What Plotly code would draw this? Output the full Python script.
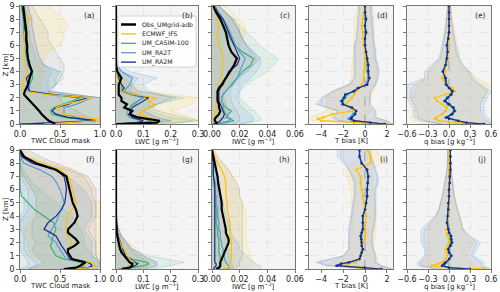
import plotly.graph_objects as go

# ---------------- data ----------------
Z = [0, 0.1, 0.25, 0.4, 0.5, 0.75, 1.0, 1.25, 1.5, 1.75, 2.0, 2.25, 2.5, 2.75, 3.0,
     3.5, 4.0, 4.5, 5.0, 5.5, 6.0, 6.5, 7.0, 7.5, 8.0, 8.5, 9.0]
ZB = [0, 0.25, 0.5, 1.0, 1.5, 2.0, 2.5, 3.0, 3.5, 4.0, 4.5, 5.0, 5.5, 6.0, 6.5, 7.0, 7.5, 8.0, 8.5, 9.0]

SERIES = ["Obs_UMgrid-adb", "ECMWF_IFS", "UM_CASIM-100", "UM_RA2T", "UM_RA2M"]

# (a) TWC cloud mask, top
A_OBS = [0.44, 0.40, 0.36, 0.33, 0.31, 0.27, 0.24, 0.2, 0.16, 0.12, 0.08, 0.05, 0.06, 0.08, 0.1, 0.12, 0.15, 0.12, 0.1, 0.09, 0.09, 0.08, 0.08, 0.07, 0.06, 0.05, 0.04]
A_IFS = [0.3, 0.6, 1.0, 0.95, 0.85, 0.55, 0.5, 0.45, 0.55, 0.75, 0.9, 0.35, 0.06, 0.03, 0.03, 0.06, 0.1, 0.06, 0.05, 0.05, 0.06, 0.05, 0.06, 0.08, 0.12, 0.06, 0.03]
A_CASIM = [0.0, 0.5, 0.95, 0.7, 0.55, 0.4, 0.38, 0.42, 0.55, 0.65, 0.75, 0.35, 0.1, 0.1, 0.12, 0.16, 0.15, 0.1, 0.08, 0.07, 0.06, 0.05, 0.05, 0.04, 0.04, 0.03, 0.02]
A_RA2T = [0.0, 0.45, 0.9, 0.8, 0.7, 0.55, 0.55, 0.55, 0.7, 0.8, 0.9, 0.45, 0.12, 0.12, 0.12, 0.12, 0.14, 0.1, 0.09, 0.08, 0.07, 0.07, 0.06, 0.05, 0.05, 0.04, 0.03]
A_RA2M = [0.0, 0.5, 0.95, 0.75, 0.6, 0.45, 0.4, 0.45, 0.6, 0.7, 0.85, 0.4, 0.12, 0.1, 0.1, 0.08, 0.15, 0.12, 0.1, 0.09, 0.08, 0.07, 0.06, 0.06, 0.05, 0.04, 0.03]
A_OBS_HI = [0.95, 0.9, 0.85, 0.7, 0.55, 0.5, 0.35, 0.45, 0.5, 0.55, 0.55, 0.5, 0.45, 0.4, 0.35, 0.35, 0.3, 0.25, 0.2, 0.15]
A_IFS_HI = [1, 1, 1, 1, 1, 1, 0.3, 0.25, 0.3, 0.3, 0.3, 0.3, 0.35, 0.5, 0.55, 0.55, 0.6, 0.55, 0.45, 0.35]
A_CASIM_HI = [1, 1, 1, 1, 1, 1, 0.35, 0.45, 0.55, 0.5, 0.3, 0.2, 0.18, 0.15, 0.12, 0.12, 0.1, 0.1, 0.08, 0.06]
A_RA2T_HI = [1, 1, 1, 1, 1, 1, 0.4, 0.45, 0.45, 0.5, 0.3, 0.25, 0.22, 0.2, 0.18, 0.17, 0.15, 0.15, 0.12, 0.1]
A_RA2M_HI = [1, 1, 1, 1, 1, 1, 0.35, 0.35, 0.35, 0.4, 0.3, 0.25, 0.22, 0.2, 0.18, 0.17, 0.15, 0.15, 0.12, 0.1]

# (b) LWC, top
B_OBS = [0.0, 0.15, 0.16, 0.12, 0.08, 0.05, 0.06, 0.03, 0.04, 0.02, 0.02, 0.01, 0.01, 0.01, 0.01, 0.02, 0.005, 0, 0, 0, 0, 0, 0, 0, 0, 0, 0]
B_IFS = [0.0, 0.12, 0.16, 0.14, 0.12, 0.08, 0.1, 0.12, 0.14, 0.12, 0.15, 0.06, 0.02, 0.015, 0.01, 0.005, 0, 0, 0, 0, 0, 0, 0, 0, 0, 0, 0]
B_CASIM = [0.0, 0.1, 0.13, 0.1, 0.07, 0.05, 0.05, 0.05, 0.06, 0.08, 0.1, 0.05, 0.02, 0.02, 0.02, 0.01, 0, 0, 0, 0, 0, 0, 0, 0, 0, 0, 0]
B_RA2T = [0.0, 0.07, 0.09, 0.07, 0.05, 0.04, 0.04, 0.05, 0.07, 0.08, 0.1, 0.06, 0.03, 0.04, 0.05, 0.06, 0.02, 0.005, 0, 0, 0, 0, 0, 0, 0, 0, 0]
B_RA2M = [0.0, 0.08, 0.1, 0.08, 0.06, 0.05, 0.05, 0.06, 0.08, 0.1, 0.12, 0.06, 0.02, 0.03, 0.02, 0.01, 0.005, 0, 0, 0, 0, 0, 0, 0, 0, 0, 0]
B_OBS_HI = [0.2, 0.3, 0.25, 0.15, 0.12, 0.12, 0.05, 0.06, 0.08, 0.02, 0, 0, 0, 0, 0, 0, 0, 0, 0, 0]
B_IFS_HI = [0.15, 0.3, 0.28, 0.2, 0.28, 0.3, 0.12, 0.05, 0.03, 0.01, 0, 0, 0, 0, 0, 0, 0, 0, 0, 0]
B_CASIM_HI = [0.15, 0.28, 0.2, 0.12, 0.15, 0.25, 0.08, 0.05, 0.04, 0.01, 0, 0, 0, 0, 0, 0, 0, 0, 0, 0]
B_RA2T_HI = [0.1, 0.2, 0.15, 0.1, 0.15, 0.2, 0.12, 0.1, 0.15, 0.05, 0.01, 0, 0, 0, 0, 0, 0, 0, 0, 0]
B_RA2M_HI = [0.1, 0.2, 0.15, 0.1, 0.15, 0.22, 0.08, 0.06, 0.05, 0.02, 0, 0, 0, 0, 0, 0, 0, 0, 0, 0]

# (c) IWC, top
C_OBS = [0.004, 0.003, 0.002, 0.002, 0.003, 0.005, 0.006, 0.005, 0.005, 0.004, 0.004, 0.004, 0.004, 0.005, 0.007, 0.01, 0.013, 0.016, 0.018, 0.014, 0.012, 0.011, 0.01, 0.008, 0.006, 0.003, 0.001]
C_IFS = [0.0, 0.001, 0.002, 0.002, 0.002, 0.002, 0.003, 0.003, 0.003, 0.003, 0.004, 0.004, 0.004, 0.005, 0.005, 0.006, 0.007, 0.008, 0.008, 0.007, 0.005, 0.004, 0.004, 0.005, 0.004, 0.003, 0.002]
C_CASIM = [0.0, 0.01, 0.016, 0.012, 0.01, 0.012, 0.014, 0.01, 0.008, 0.007, 0.007, 0.008, 0.01, 0.012, 0.014, 0.018, 0.022, 0.028, 0.03, 0.022, 0.016, 0.013, 0.011, 0.009, 0.007, 0.004, 0.002]
C_RA2T = [0.0, 0.008, 0.012, 0.014, 0.012, 0.01, 0.009, 0.008, 0.008, 0.007, 0.007, 0.008, 0.01, 0.012, 0.015, 0.018, 0.02, 0.022, 0.024, 0.02, 0.017, 0.015, 0.013, 0.011, 0.008, 0.005, 0.002]
C_RA2M = [0.0, 0.004, 0.006, 0.007, 0.008, 0.009, 0.008, 0.007, 0.006, 0.005, 0.005, 0.005, 0.005, 0.006, 0.008, 0.01, 0.012, 0.018, 0.02, 0.018, 0.016, 0.014, 0.012, 0.01, 0.008, 0.004, 0.002]
C_OBS_HI = [0.01, 0.008, 0.01, 0.012, 0.01, 0.008, 0.008, 0.012, 0.018, 0.025, 0.03, 0.035, 0.03, 0.025, 0.022, 0.02, 0.018, 0.015, 0.01, 0.005]
C_IFS_HI = [0.005, 0.008, 0.01, 0.012, 0.01, 0.01, 0.01, 0.012, 0.015, 0.018, 0.02, 0.02, 0.02, 0.02, 0.022, 0.025, 0.024, 0.02, 0.015, 0.01]
C_CASIM_HI = [0.02, 0.035, 0.035, 0.03, 0.025, 0.02, 0.02, 0.025, 0.032, 0.04, 0.045, 0.048, 0.04, 0.035, 0.03, 0.025, 0.02, 0.016, 0.01, 0.005]
C_RA2T_HI = [0.02, 0.03, 0.03, 0.025, 0.02, 0.018, 0.02, 0.022, 0.028, 0.032, 0.035, 0.035, 0.03, 0.025, 0.022, 0.02, 0.018, 0.015, 0.01, 0.005]
C_RA2M_HI = [0.015, 0.02, 0.02, 0.018, 0.015, 0.013, 0.013, 0.015, 0.02, 0.025, 0.03, 0.032, 0.028, 0.025, 0.022, 0.02, 0.017, 0.014, 0.01, 0.005]

# (d) T bias, top
D_IFS = [2.0, -1.0, -4.0, -4.3, -3.8, -3.0, -1.0, -1.2, -1.8, -1.5, -1.2, -1.0, -0.8, -0.5, -0.3, -0.1, -0.1, 0.0, 0.0, 0.0, -0.1, -0.2, -0.2, -0.3, -0.2, -0.1, 0.0]
D_CASIM = [1.7, 0.3, -1.2, -1.5, -1.3, -1.1, -1.0, -1.3, -2.0, -2.0, -1.8, -1.6, -1.0, -0.6, 0.1, 0.3, 0.2, 0.2, 0.1, 0.0, 0.0, 0.0, 0.0, 0.0, 0.0, 0.0, 0.0]
D_RA2T = [1.6, 0.4, -1.1, -1.4, -1.3, -1.0, -0.9, -1.3, -2.1, -2.2, -2.0, -1.7, -1.1, -0.7, 0.1, 0.3, 0.3, 0.3, 0.2, 0.1, 0.0, 0.0, 0.1, 0.0, 0.1, 0.0, 0.0]
D_RA2M = [1.8, 0.5, -1.0, -1.3, -1.2, -0.9, -0.8, -1.2, -2.0, -2.1, -1.9, -1.8, -1.0, -0.6, 0.2, 0.4, 0.3, 0.3, 0.2, 0.1, 0.0, 0.0, 0.1, 0.0, 0.1, 0.0, 0.0]
D_IFS_LO = [0.5, -4.8, -5.0, -3.5, -3.5, -3.5, -3.0, -1.5, -1.2, -1.2, -1.2, -1.1, -1.0, -1.0, -1.0, -1.0, -1.0, -1.0, -0.8, -0.6]
D_IFS_HI = [2.5, 1.5, 0.0, 0.5, 0.3, 0.5, 0.8, 1.0, 1.0, 1.2, 1.0, 1.0, 0.9, 0.8, 0.8, 0.8, 0.8, 0.8, 0.8, 0.6]
D_RA2T_LO = [0.5, -2.5, -3.0, -2.5, -4.5, -4.0, -3.0, -1.5, -1.0, -1.0, -1.0, -1.0, -1.0, -1.0, -0.8, -0.8, -0.7, -0.7, -0.6, -0.6]
D_RA2T_HI = [2.5, 2.0, 1.0, 1.0, 0.5, 0.5, 0.5, 1.0, 1.2, 1.3, 1.2, 1.0, 1.0, 0.9, 0.8, 0.8, 0.7, 0.7, 0.6, 0.6]
D_RA2M_LO = [0.6, -2.3, -2.8, -2.4, -4.2, -3.8, -2.8, -1.4, -0.9, -0.9, -0.9, -0.9, -0.9, -0.9, -0.7, -0.7, -0.6, -0.6, -0.5, -0.5]
D_RA2M_HI = [2.4, 1.9, 0.9, 0.9, 0.4, 0.4, 0.5, 0.9, 1.1, 1.2, 1.1, 0.9, 0.9, 0.8, 0.7, 0.7, 0.6, 0.6, 0.5, 0.5]

# (e) q bias, top
E_IFS = [0.5, 0.1, -0.15, -0.2, -0.18, -0.1, -0.05, -0.03, -0.1, -0.17, -0.2, -0.05, 0.08, 0.05, -0.05, -0.1, -0.05, -0.05, -0.02, -0.01, -0.02, 0.0, 0.0, 0.0, 0.0, 0.0, 0.0]
E_CASIM = [0.45, 0.2, 0.1, 0.0, -0.05, 0.03, 0.07, 0.05, -0.02, -0.07, -0.03, 0.02, 0.04, 0.0, -0.05, -0.06, -0.08, -0.05, -0.03, -0.02, -0.02, -0.01, 0.0, 0.0, 0.0, 0.0, 0.0]
E_RA2T = [0.48, 0.22, 0.12, 0.01, -0.03, 0.05, 0.09, 0.07, 0.01, -0.05, -0.01, 0.04, 0.06, 0.01, -0.03, -0.04, -0.08, -0.04, -0.02, -0.02, -0.03, -0.01, 0.0, 0.0, 0.0, 0.0, 0.0]
E_RA2M = [0.5, 0.25, 0.13, 0.0, -0.04, 0.04, 0.08, 0.06, 0.0, -0.06, -0.02, 0.03, 0.05, 0.0, -0.04, -0.05, -0.09, -0.05, -0.03, -0.02, -0.03, -0.01, 0.0, 0.0, 0.0, 0.0, 0.0]
E_IFS_LO = [-0.2, -0.5, -0.55, -0.5, -0.5, -0.55, -0.5, -0.45, -0.35, -0.3, -0.2, -0.12, -0.1, -0.08, -0.07, -0.05, -0.04, -0.03, -0.02, -0.02]
E_IFS_HI = [0.6, 0.5, 0.45, 0.4, 0.45, 0.5, 0.55, 0.6, 0.4, 0.3, 0.2, 0.15, 0.15, 0.12, 0.1, 0.08, 0.06, 0.05, 0.04, 0.03]
E_RA2T_LO = [-0.1, -0.4, -0.5, -0.5, -0.55, -0.6, -0.6, -0.6, -0.35, -0.35, -0.25, -0.15, -0.12, -0.1, -0.08, -0.06, -0.05, -0.04, -0.03, -0.02]
E_RA2T_HI = [0.6, 0.6, 0.55, 0.5, 0.5, 0.55, 0.6, 0.45, 0.35, 0.3, 0.2, 0.15, 0.12, 0.1, 0.08, 0.06, 0.05, 0.04, 0.03, 0.02]
E_RA2M_LO = [-0.1, -0.35, -0.45, -0.45, -0.5, -0.55, -0.55, -0.5, -0.3, -0.3, -0.22, -0.13, -0.1, -0.09, -0.07, -0.05, -0.04, -0.03, -0.02, -0.02]
E_RA2M_HI = [0.6, 0.55, 0.5, 0.45, 0.45, 0.5, 0.55, 0.42, 0.32, 0.28, 0.18, 0.13, 0.1, 0.09, 0.07, 0.05, 0.04, 0.03, 0.02, 0.02]

# (f) TWC cloud mask, bottom
F_OBS = [0.55, 0.7, 0.75, 0.8, 0.82, 0.65, 0.62, 0.6, 0.6, 0.68, 0.73, 0.7, 0.65, 0.6, 0.6, 0.68, 0.72, 0.7, 0.66, 0.64, 0.62, 0.6, 0.58, 0.45, 0.2, 0.05, 0.0]
F_IFS = [0.6, 0.9, 0.95, 0.92, 0.88, 0.65, 0.62, 0.6, 0.6, 0.63, 0.65, 0.62, 0.6, 0.58, 0.58, 0.58, 0.6, 0.65, 0.7, 0.68, 0.66, 0.63, 0.6, 0.5, 0.25, 0.05, 0.0]
F_CASIM = [0.6, 0.85, 0.9, 0.88, 0.85, 0.55, 0.45, 0.42, 0.4, 0.38, 0.4, 0.4, 0.42, 0.44, 0.45, 0.42, 0.3, 0.18, 0.1, 0.02, 0.0, 0.0, 0.0, 0.0, 0.0, 0.0, 0.0]
F_RA2T = [0.5, 0.75, 0.8, 0.78, 0.75, 0.58, 0.55, 0.52, 0.5, 0.47, 0.45, 0.4, 0.35, 0.37, 0.4, 0.45, 0.48, 0.52, 0.55, 0.53, 0.5, 0.46, 0.4, 0.25, 0.05, 0.0, 0.0]
F_RA2M = [0.6, 0.85, 0.9, 0.88, 0.85, 0.62, 0.6, 0.58, 0.55, 0.52, 0.5, 0.47, 0.45, 0.38, 0.3, 0.35, 0.45, 0.52, 0.56, 0.57, 0.58, 0.57, 0.55, 0.45, 0.15, 0.02, 0.0]
F_OBS_LO = [0.1, 0.2, 0.3, 0.2, 0.15, 0.2, 0.15, 0.15, 0.15, 0.2, 0.2, 0.2, 0.2, 0.15, 0.1, 0.05, 0.02, 0.0, 0.0, 0.0]
F_OBS_HI = [0.95, 1.0, 1.0, 0.95, 0.95, 0.95, 0.95, 0.95, 0.95, 0.95, 0.95, 0.95, 0.9, 0.9, 0.85, 0.8, 0.65, 0.45, 0.25, 0.1]
F_IFS_LO = [0.1, 0.3, 0.3, 0.15, 0.1, 0.1, 0.05, 0.05, 0.1, 0.15, 0.2, 0.2, 0.2, 0.15, 0.1, 0.05, 0.0, 0.0, 0.0, 0.0]
F_IFS_HI = [1.0, 1.0, 1.0, 1.0, 1.0, 1.0, 1.0, 1.0, 1.0, 1.0, 1.0, 1.0, 0.95, 0.95, 0.9, 0.85, 0.7, 0.4, 0.15, 0.02]
F_CASIM_HI = [0.95, 1.0, 1.0, 0.9, 0.85, 0.8, 0.8, 0.75, 0.7, 0.65, 0.55, 0.45, 0.35, 0.25, 0.15, 0.1, 0.05, 0.0, 0.0, 0.0]
F_RA2T_LO = [0.0, 0.1, 0.1, 0.05, 0.0, 0.0, 0.0, 0.0, 0.0, 0.0, 0.05, 0.05, 0.05, 0.0, 0.0, 0.0, 0.0, 0.0, 0.0, 0.0]
F_RA2T_HI = [0.95, 1.0, 1.0, 0.9, 0.9, 0.9, 0.85, 0.8, 0.85, 0.9, 0.9, 0.9, 0.85, 0.8, 0.7, 0.6, 0.4, 0.15, 0.02, 0.0]
F_RA2M_LO = [0.1, 0.2, 0.2, 0.1, 0.05, 0.05, 0.05, 0.0, 0.0, 0.05, 0.1, 0.1, 0.1, 0.1, 0.05, 0.02, 0.0, 0.0, 0.0, 0.0]
F_RA2M_HI = [1.0, 1.0, 1.0, 0.95, 0.95, 0.95, 0.9, 0.85, 0.9, 0.95, 0.95, 0.95, 0.95, 0.95, 0.9, 0.85, 0.6, 0.3, 0.08, 0.0]

# (g) LWC, bottom
G_OBS = [0.02, 0.05, 0.06, 0.06, 0.05, 0.04, 0.03, 0.02, 0.015, 0.012, 0.01, 0.008, 0.005, 0.003, 0.002, 0.001, 0, 0, 0, 0, 0, 0, 0, 0, 0, 0, 0]
G_IFS = [0.01, 0.04, 0.06, 0.07, 0.065, 0.05, 0.04, 0.035, 0.03, 0.02, 0.015, 0.01, 0.006, 0.004, 0.002, 0.001, 0, 0, 0, 0, 0, 0, 0, 0, 0, 0, 0]
G_CASIM = [0.01, 0.06, 0.1, 0.12, 0.11, 0.06, 0.03, 0.02, 0.015, 0.01, 0.008, 0.005, 0.003, 0.002, 0.001, 0, 0, 0, 0, 0, 0, 0, 0, 0, 0, 0, 0]
G_RA2T = [0.01, 0.04, 0.05, 0.06, 0.055, 0.04, 0.03, 0.025, 0.02, 0.015, 0.01, 0.008, 0.005, 0.003, 0.002, 0, 0, 0, 0, 0, 0, 0, 0, 0, 0, 0, 0]
G_RA2M = [0.01, 0.05, 0.07, 0.08, 0.07, 0.05, 0.035, 0.03, 0.025, 0.02, 0.015, 0.012, 0.008, 0.005, 0.003, 0.001, 0, 0, 0, 0, 0, 0, 0, 0, 0, 0, 0]
G_OBS_HI = [0.08, 0.12, 0.12, 0.08, 0.05, 0.04, 0.02, 0.01, 0.005, 0, 0, 0, 0, 0, 0, 0, 0, 0, 0, 0]
G_IFS_HI = [0.08, 0.12, 0.14, 0.1, 0.08, 0.05, 0.02, 0.01, 0, 0, 0, 0, 0, 0, 0, 0, 0, 0, 0, 0]
G_CASIM_HI = [0.12, 0.2, 0.25, 0.12, 0.06, 0.03, 0.015, 0.005, 0, 0, 0, 0, 0, 0, 0, 0, 0, 0, 0, 0]
G_RA2T_HI = [0.1, 0.15, 0.15, 0.1, 0.06, 0.04, 0.02, 0.01, 0, 0, 0, 0, 0, 0, 0, 0, 0, 0, 0, 0]
G_RA2M_HI = [0.1, 0.15, 0.15, 0.1, 0.06, 0.04, 0.02, 0.01, 0, 0, 0, 0, 0, 0, 0, 0, 0, 0, 0, 0]

# (h) IWC, bottom
H_OBS = [0.003, 0.005, 0.006, 0.006, 0.006, 0.007, 0.008, 0.009, 0.01, 0.011, 0.012, 0.012, 0.011, 0.01, 0.01, 0.009, 0.008, 0.007, 0.007, 0.006, 0.005, 0.0045, 0.004, 0.003, 0.002, 0.001, 0.0]
H_IFS = [0.008, 0.012, 0.013, 0.013, 0.013, 0.014, 0.014, 0.014, 0.014, 0.014, 0.014, 0.014, 0.013, 0.013, 0.013, 0.013, 0.012, 0.011, 0.011, 0.01, 0.01, 0.01, 0.009, 0.007, 0.004, 0.002, 0.0]
H_CASIM = [0.004, 0.006, 0.006, 0.006, 0.006, 0.006, 0.006, 0.005, 0.005, 0.005, 0.005, 0.005, 0.004, 0.004, 0.004, 0.003, 0.003, 0.003, 0.002, 0.002, 0.002, 0.001, 0.001, 0.0, 0.0, 0.0, 0.0]
H_RA2T = [0.01, 0.013, 0.012, 0.011, 0.01, 0.009, 0.009, 0.008, 0.008, 0.007, 0.007, 0.006, 0.006, 0.006, 0.005, 0.005, 0.004, 0.004, 0.003, 0.003, 0.002, 0.002, 0.001, 0.001, 0.0, 0.0, 0.0]
H_RA2M = [0.001, 0.002, 0.003, 0.003, 0.002, 0.002, 0.002, 0.002, 0.002, 0.002, 0.002, 0.002, 0.002, 0.002, 0.002, 0.002, 0.002, 0.002, 0.002, 0.002, 0.002, 0.002, 0.001, 0.001, 0.001, 0.0, 0.0]
H_OBS_HI = [0.015, 0.02, 0.02, 0.022, 0.022, 0.022, 0.022, 0.022, 0.022, 0.022, 0.022, 0.022, 0.02, 0.02, 0.018, 0.015, 0.012, 0.008, 0.004, 0.001]
H_IFS_HI = [0.025, 0.03, 0.03, 0.028, 0.026, 0.025, 0.025, 0.025, 0.025, 0.025, 0.024, 0.022, 0.02, 0.018, 0.016, 0.015, 0.012, 0.008, 0.004, 0.001]
H_CASIM_HI = [0.015, 0.015, 0.014, 0.012, 0.012, 0.01, 0.01, 0.01, 0.009, 0.008, 0.007, 0.006, 0.005, 0.004, 0.003, 0.002, 0.001, 0, 0, 0]
H_RA2T_HI = [0.035, 0.035, 0.03, 0.025, 0.02, 0.018, 0.015, 0.013, 0.012, 0.01, 0.009, 0.008, 0.007, 0.006, 0.005, 0.004, 0.003, 0.002, 0.001, 0]
H_RA2M_HI = [0.006, 0.006, 0.006, 0.005, 0.005, 0.005, 0.005, 0.005, 0.005, 0.005, 0.005, 0.005, 0.004, 0.004, 0.003, 0.003, 0.002, 0.001, 0, 0]

# (i) T bias, bottom
I_IFS = [1.3, -0.5, -2.0, -1.5, -0.8, -0.5, -0.4, -0.3, -0.2, -0.3, -0.2, 0.0, 0.0, 0.05, 0.0, 0.05, 0.1, 0.0, -0.1, -0.2, -0.3, -0.4, -0.4, -0.8, 0.5, 0.5, 0.2]
I_CASIM = [1.3, -0.2, -2.5, -2.1, -1.4, -0.5, -0.4, -0.3, -0.2, -0.3, -0.3, -0.3, -0.35, -0.3, -0.2, -0.2, -0.2, 0.0, 0.1, 0.15, 0.2, 0.2, 0.25, 0.15, -0.3, -0.5, -0.5]
I_RA2T = [1.4, -0.1, -2.5, -2.1, -1.4, -0.5, -0.4, -0.3, -0.2, -0.3, -0.3, -0.3, -0.4, -0.3, -0.2, -0.2, -0.2, 0.0, 0.1, 0.2, 0.2, 0.25, 0.3, 0.2, -0.3, -0.5, -0.5]
I_RA2M = [1.5, 0.0, -2.6, -2.2, -1.5, -0.5, -0.4, -0.3, -0.2, -0.3, -0.3, -0.35, -0.4, -0.3, -0.2, -0.2, -0.2, 0.0, 0.1, 0.2, 0.2, 0.25, 0.3, 0.2, -0.3, -0.5, -0.5]
I_IFS_LO = [0.0, -3.5, -3.0, -2.0, -1.5, -1.5, -1.2, -1.2, -1.2, -1.2, -1.2, -1.2, -1.2, -1.3, -1.5, -1.6, -1.8, -1.0, -0.5, -0.5]
I_IFS_HI = [2.5, 1.5, 1.2, 1.0, 0.8, 0.8, 1.0, 1.0, 1.0, 1.0, 0.9, 0.9, 0.8, 0.8, 0.7, 0.6, 0.6, 1.5, 1.5, 1.0]
I_RA2T_LO = [0.5, -3.5, -4.5, -2.0, -1.5, -1.5, -1.5, -1.5, -1.4, -1.3, -1.2, -1.1, -1.0, -1.0, -1.0, -1.2, -1.5, -2.0, -2.5, -2.5]
I_RA2T_HI = [2.5, 1.5, 1.0, 1.0, 0.8, 0.7, 0.7, 0.8, 0.9, 1.0, 1.0, 1.0, 1.0, 1.0, 1.2, 1.2, 1.0, 0.8, 0.6, 0.5]
I_RA2M_LO = [0.5, -3.3, -4.2, -1.9, -1.4, -1.4, -1.4, -1.4, -1.3, -1.2, -1.1, -1.0, -0.9, -0.9, -0.9, -1.1, -1.4, -1.8, -2.2, -2.2]
I_RA2M_HI = [2.4, 1.4, 0.9, 0.9, 0.7, 0.6, 0.6, 0.7, 0.8, 0.9, 0.9, 0.9, 0.9, 0.9, 1.1, 1.1, 0.9, 0.7, 0.5, 0.4]

# (j) q bias, bottom
J_IFS = [0.5, 0.0, -0.25, -0.15, -0.1, -0.05, -0.02, -0.03, -0.05, -0.02, 0.0, 0.0, -0.02, -0.03, -0.03, -0.02, -0.01, 0.0, 0.0, 0.0, 0.0, 0.0, 0.0, 0.0, 0.0, 0.0, 0.0]
J_CASIM = [0.28, 0.0, -0.1, -0.06, -0.04, 0.01, 0.03, 0.0, -0.02, 0.01, 0.03, 0.02, 0.02, 0.0, -0.01, -0.02, -0.02, -0.01, -0.01, 0.0, 0.0, 0.01, 0.01, 0.01, 0.02, 0.02, 0.02]
J_RA2T = [0.3, 0.02, -0.08, -0.06, -0.04, 0.01, 0.04, 0.01, 0.0, 0.03, 0.05, 0.04, 0.03, 0.01, -0.01, -0.02, -0.02, -0.01, 0.0, 0.0, 0.0, 0.01, 0.01, 0.02, 0.02, 0.02, 0.02]
J_RA2M = [0.3, 0.0, -0.1, -0.07, -0.05, 0.0, 0.03, 0.0, -0.01, 0.02, 0.04, 0.03, 0.03, 0.0, -0.01, -0.03, -0.02, -0.01, -0.01, 0.0, 0.0, 0.01, 0.01, 0.02, 0.02, 0.02, 0.02]
J_IFS_LO = [-0.1, -0.4, -0.4, -0.3, -0.3, -0.3, -0.3, -0.3, -0.25, -0.2, -0.15, -0.12, -0.1, -0.08, -0.06, -0.04, -0.03, -0.02, -0.02, -0.02]
J_IFS_HI = [0.6, 0.4, 0.3, 0.25, 0.3, 0.35, 0.25, 0.2, 0.18, 0.15, 0.12, 0.1, 0.08, 0.06, 0.05, 0.04, 0.03, 0.02, 0.02, 0.02]
J_RA2T_LO = [-0.2, -0.45, -0.45, -0.35, -0.35, -0.4, -0.4, -0.4, -0.3, -0.2, -0.15, -0.12, -0.1, -0.08, -0.06, -0.04, -0.03, -0.02, -0.02, -0.02]
J_RA2T_HI = [0.6, 0.5, 0.5, 0.35, 0.4, 0.45, 0.3, 0.2, 0.18, 0.15, 0.12, 0.1, 0.08, 0.06, 0.05, 0.04, 0.03, 0.02, 0.02, 0.02]
J_RA2M_LO = [-0.15, -0.4, -0.42, -0.33, -0.32, -0.36, -0.36, -0.35, -0.27, -0.18, -0.14, -0.11, -0.09, -0.07, -0.05, -0.04, -0.03, -0.02, -0.02, -0.02]
J_RA2M_HI = [0.55, 0.45, 0.45, 0.32, 0.36, 0.4, 0.28, 0.19, 0.17, 0.14, 0.11, 0.09, 0.07, 0.06, 0.05, 0.04, 0.03, 0.02, 0.02, 0.02]

X_TITLES = ["TWC Cloud mask", "LWC [g m<sup>−3</sup>]", "IWC [g m<sup>−3</sup>]",
            "T bias [K]", "q bias [g kg<sup>−1</sup>]"]
X_RANGES = [[0, 1], [0, 0.3], [0, 0.06], [-5.1, 2.55], [-0.6, 0.6]]
X_TICKVALS = [[0, 0.5, 1.0], [0, 0.1, 0.2, 0.3], [0, 0.02, 0.04, 0.06],
              [-4, -2, 0, 2], [-0.6, -0.3, 0, 0.3, 0.6]]
X_TICKTEXT = [["0.0", "0.5", "1.0"], ["0.0", "0.1", "0.2", "0.3"],
              ["0.00", "0.02", "0.04", "0.06"], ["−4", "−2", "0", "2"],
              ["−0.6", "−0.3", "0.0", "0.3", "0.6"]]
PANEL_LABELS = ["(a)", "(b)", "(c)", "(d)", "(e)", "(f)", "(g)", "(h)", "(i)", "(j)"]
Y_TICKS = [0, 1, 2, 3, 4, 5, 6, 7, 8, 9]

# ---------------- styling ----------------
LINE_COL = {"obs": "black", "ifs": "#FFC000", "casim": "#3CB371", "ra2t": "#5B9BD5", "ra2m": "#1A2A8C"}
FILL_COL = {"obs": "rgba(128,128,128,0.10)", "ifs": "rgba(255,192,0,0.11)",
            "casim": "rgba(60,179,113,0.10)", "ra2t": "rgba(91,155,213,0.13)",
            "ra2m": "rgba(90,80,170,0.05)"}
EDGE_COL = {"obs": "rgba(110,110,110,0.4)", "ifs": "rgba(255,192,0,0.35)",
            "casim": "rgba(60,179,113,0.35)", "ra2t": "rgba(91,155,213,0.45)",
            "ra2m": "rgba(90,80,170,0.3)"}

W, H = 500, 292
X_PIX = [(20, 100), (116, 198), (212, 295), (309, 393), (407, 491)]
Y_PIX = [(6, 124), (150, 269)]

panels = [
    ({"obs": A_OBS, "ifs": A_IFS, "casim": A_CASIM, "ra2t": A_RA2T, "ra2m": A_RA2M},
     [("obs", None, A_OBS_HI), ("ifs", None, A_IFS_HI), ("casim", None, A_CASIM_HI),
      ("ra2t", None, A_RA2T_HI), ("ra2m", None, A_RA2M_HI)], False),
    ({"obs": B_OBS, "ifs": B_IFS, "casim": B_CASIM, "ra2t": B_RA2T, "ra2m": B_RA2M},
     [("obs", None, B_OBS_HI), ("ifs", None, B_IFS_HI), ("casim", None, B_CASIM_HI),
      ("ra2t", None, B_RA2T_HI), ("ra2m", None, B_RA2M_HI)], False),
    ({"obs": C_OBS, "ifs": C_IFS, "casim": C_CASIM, "ra2t": C_RA2T, "ra2m": C_RA2M},
     [("obs", None, C_OBS_HI), ("ifs", None, C_IFS_HI), ("casim", None, C_CASIM_HI),
      ("ra2t", None, C_RA2T_HI), ("ra2m", None, C_RA2M_HI)], False),
    ({"casim": D_CASIM, "ra2t": D_RA2T, "ifs": D_IFS, "ra2m": D_RA2M},
     [("ifs", D_IFS_LO, D_IFS_HI), ("ra2t", D_RA2T_LO, D_RA2T_HI), ("ra2m", D_RA2M_LO, D_RA2M_HI)], True),
    ({"casim": E_CASIM, "ra2t": E_RA2T, "ifs": E_IFS, "ra2m": E_RA2M},
     [("ifs", E_IFS_LO, E_IFS_HI), ("ra2t", E_RA2T_LO, E_RA2T_HI), ("ra2m", E_RA2M_LO, E_RA2M_HI)], True),
    ({"obs": F_OBS, "ifs": F_IFS, "casim": F_CASIM, "ra2t": F_RA2T, "ra2m": F_RA2M},
     [("obs", F_OBS_LO, F_OBS_HI), ("ifs", F_IFS_LO, F_IFS_HI), ("casim", None, F_CASIM_HI),
      ("ra2t", F_RA2T_LO, F_RA2T_HI), ("ra2m", F_RA2M_LO, F_RA2M_HI)], False),
    ({"obs": G_OBS, "ifs": G_IFS, "casim": G_CASIM, "ra2t": G_RA2T, "ra2m": G_RA2M},
     [("obs", None, G_OBS_HI), ("ifs", None, G_IFS_HI), ("casim", None, G_CASIM_HI),
      ("ra2t", None, G_RA2T_HI), ("ra2m", None, G_RA2M_HI)], False),
    ({"obs": H_OBS, "ifs": H_IFS, "casim": H_CASIM, "ra2t": H_RA2T, "ra2m": H_RA2M},
     [("obs", None, H_OBS_HI), ("ifs", None, H_IFS_HI), ("casim", None, H_CASIM_HI),
      ("ra2t", None, H_RA2T_HI), ("ra2m", None, H_RA2M_HI)], False),
    ({"casim": I_CASIM, "ra2t": I_RA2T, "ifs": I_IFS, "ra2m": I_RA2M},
     [("ifs", I_IFS_LO, I_IFS_HI), ("ra2t", I_RA2T_LO, I_RA2T_HI), ("ra2m", I_RA2M_LO, I_RA2M_HI)], True),
    ({"casim": J_CASIM, "ra2t": J_RA2T, "ifs": J_IFS, "ra2m": J_RA2M},
     [("ifs", J_IFS_LO, J_IFS_HI), ("ra2t", J_RA2T_LO, J_RA2T_HI), ("ra2m", J_RA2M_LO, J_RA2M_HI)], True),
]

FONT = "DejaVu Sans"
TICK_SIZE = 8
TITLE_SIZE = 7
fig = go.Figure()
layout = dict(template="none", width=W, height=H, margin=dict(l=0, r=0, t=0, b=0, pad=0),
              paper_bgcolor="white", plot_bgcolor="#F4F4F4",
              showlegend=False, font=dict(family=FONT, size=8, color="#222"))
annotations = []
shapes = []

for p, (lines, bands, is_bias) in enumerate(panels):
    row, col = divmod(p, 5)
    n = p + 1
    sfx = "" if n == 1 else str(n)
    xa, ya = f"x{sfx}", f"y{sfx}"
    x0p, x1p = X_PIX[col]
    y0p, y1p = Y_PIX[row]
    layout[f"xaxis{sfx}"] = dict(
        domain=[x0p / W, x1p / W], anchor=ya, range=X_RANGES[col], automargin=False,
        tickmode="array", tickvals=X_TICKVALS[col], ticktext=X_TICKTEXT[col], tickangle=0,
        showgrid=True, gridcolor="#DCDCDC", griddash="dash", gridwidth=0.6,
        zeroline=False, showline=True, mirror=True, linecolor="#555", linewidth=0.8,
        ticks="outside", ticklen=3, tickcolor="#555", tickwidth=0.8,
        tickfont=dict(size=TICK_SIZE, family=FONT, color="#222"))
    layout[f"yaxis{sfx}"] = dict(
        domain=[1 - y1p / H, 1 - y0p / H], anchor=xa, range=[0, 9], automargin=False,
        tickmode="array", tickvals=Y_TICKS, showticklabels=(col == 0),
        showgrid=True, gridcolor="#DCDCDC", griddash="dash", gridwidth=0.6,
        zeroline=False, showline=True, mirror=True, linecolor="#555", linewidth=0.8,
        ticks="outside", ticklen=3, tickcolor="#555", tickwidth=0.8,
        tickfont=dict(size=TICK_SIZE, family=FONT, color="#222"))

    for key, lo, hi in bands:
        if lo is None:
            fig.add_trace(go.Scatter(x=hi, y=ZB, xaxis=xa, yaxis=ya, mode="lines",
                                     fill="tozerox", fillcolor=FILL_COL[key],
                                     line=dict(color=EDGE_COL[key], width=0.6),
                                     hoverinfo="skip"))
        else:
            fig.add_trace(go.Scatter(x=lo, y=ZB, xaxis=xa, yaxis=ya, mode="lines",
                                     line=dict(color=EDGE_COL[key], width=0.6),
                                     hoverinfo="skip"))
            fig.add_trace(go.Scatter(x=hi, y=ZB, xaxis=xa, yaxis=ya, mode="lines",
                                     fill="tonextx", fillcolor=FILL_COL[key],
                                     line=dict(color=EDGE_COL[key], width=0.6),
                                     hoverinfo="skip"))
    if is_bias:
        shapes.append(dict(type="line", xref=xa, yref=f"{ya} domain", x0=0, x1=0, y0=0, y1=1,
                           line=dict(color="#999", width=1, dash="dash"), layer="below"))
    order = ["casim", "ra2t", "ra2m", "ifs", "obs"] if not is_bias else ["casim", "ra2t", "ifs", "ra2m"]
    for key in order:
        if key not in lines:
            continue
        width = 2.2 if key == "obs" else 1.2
        if is_bias:
            fig.add_trace(go.Scatter(x=lines[key], y=Z, xaxis=xa, yaxis=ya, mode="lines+markers",
                                     line=dict(color=LINE_COL[key], width=1.2),
                                     marker=dict(size=2.5, color=LINE_COL[key])))
        else:
            fig.add_trace(go.Scatter(x=lines[key], y=Z, xaxis=xa, yaxis=ya, mode="lines",
                                     line=dict(color=LINE_COL[key], width=width)))
    annotations.append(dict(text=PANEL_LABELS[p], xref=f"{xa} domain", yref=f"{ya} domain",
                            x=0.96, y=0.975, xanchor="right", yanchor="top", showarrow=False,
                            font=dict(size=7.5, family=FONT, color="#222")))
    annotations.append(dict(text=X_TITLES[col], xref=f"{xa} domain", yref="paper",
                            x=0.5, y=1 - (y1p + 17) / H, xanchor="center", yanchor="middle",
                            showarrow=False, font=dict(size=TITLE_SIZE, family=FONT, color="#222")))

for (y0p, y1p) in Y_PIX:
    annotations.append(dict(text="Z [km]", xref="paper", yref="paper", x=5.5 / W,
                            y=1 - (y0p + y1p) / 2 / H, textangle=-90, xanchor="center",
                            yanchor="middle", showarrow=False,
                            font=dict(size=TITLE_SIZE, family=FONT, color="#222")))

LEG_KEYS = ["obs", "ifs", "casim", "ra2t", "ra2m"]
lx0, lx1, ly0, ly1 = 118, 196, 16, 67
shapes.append(dict(type="rect", xref="paper", yref="paper", x0=lx0 / W, x1=lx1 / W,
                   y0=1 - ly1 / H, y1=1 - ly0 / H, fillcolor="rgba(255,255,255,0.85)",
                   line=dict(color="#CCCCCC", width=0.8)))
for i, (key, name) in enumerate(zip(LEG_KEYS, SERIES)):
    yy = 1 - (24.5 + i * 9.4) / H
    shapes.append(dict(type="line", xref="paper", yref="paper", x0=121 / W, x1=136 / W,
                       y0=yy, y1=yy, line=dict(color=LINE_COL[key], width=2.5 if key == "obs" else 1.3)))
    annotations.append(dict(text=name, xref="paper", yref="paper", x=139.5 / W, y=yy,
                            xanchor="left", yanchor="middle", showarrow=False,
                            font=dict(size=6.2, family=FONT, color="#222")))

layout["annotations"] = annotations
layout["shapes"] = shapes
fig.update_layout(**layout)
fig.write_html("out.html", config={"displayModeBar": False, "staticPlot": True},
               post_script="document.body.style.margin='0';document.body.style.padding='0';")
